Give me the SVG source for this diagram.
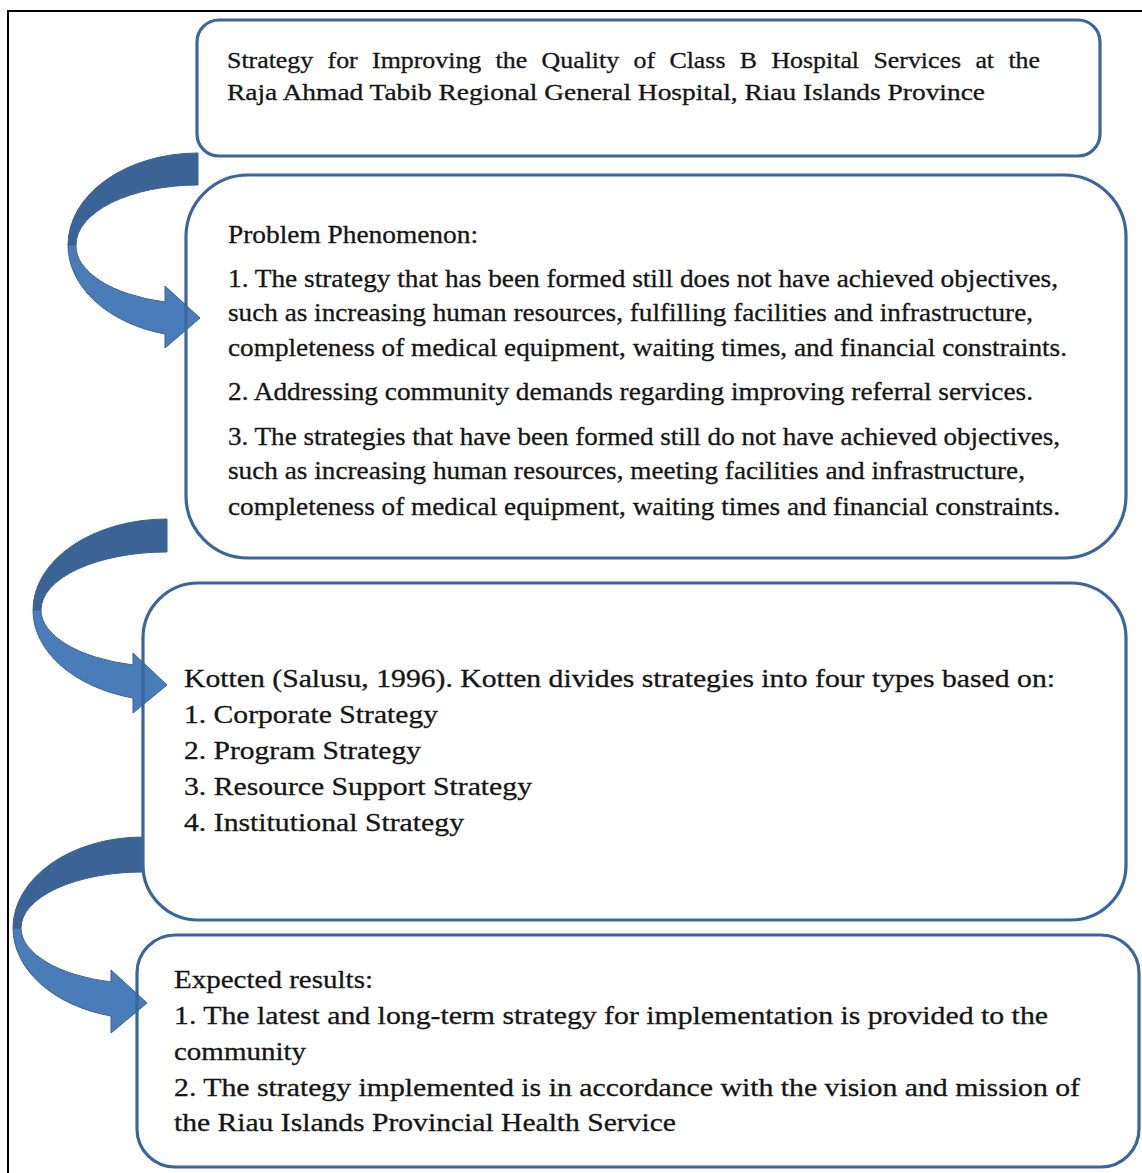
<svg xmlns="http://www.w3.org/2000/svg" width="1142" height="1173" viewBox="0 0 1142 1173">
  <style>
    .frame { fill: none; stroke: #000; stroke-width: 2; }
    .box { fill: none; stroke: #3a669c; stroke-width: 3.2; }
    .back { fill: #3b6396; stroke: #3a6192; stroke-width: 1; }
    .front { fill: #4a7cba; stroke: #3a6192; stroke-width: 1; }
    text { font-family: "Liberation Serif", "Times New Roman", Times, serif; fill: #151515; stroke: #151515; stroke-width: 0.3; }
    .t1 { font-size: 23px; }
    .t { font-size: 25px; }
    .justified { word-spacing: 7px; }
  </style>

  <rect x="0" y="0" width="1142" height="1173" fill="#fff"/>
  <!-- page frame: only top and left edges fall inside the canvas -->
  <path class="frame" d="M8,1173 L8,11 L1142,11"/>

  <!-- curved block arrows between the stages -->
  <g id="connectors">
    <g id="arrow-1">
      <path class="back" d="M198,153 A130,92 0 0 0 68,245 L76,245 A122,60 0 0 1 198,185 Z"/>
      <path class="front" d="M68,245 A130,92 0 0 0 165,334 L165,348 L200,318 L165,286 L165,302 A122,58 0 0 1 76,245 Z"/>
    </g>
    <g id="arrow-2">
      <path class="back" d="M167,519 A134,91 0 0 0 33,610 L41,610 A126,58 0 0 1 167,552 Z"/>
      <path class="front" d="M33,610 A134,91 0 0 0 133,698 L133,713 L167,685 L133,653 L133,665 A126,57 0 0 1 41,610 Z"/>
    </g>
    <g id="arrow-3">
      <path class="back" d="M143,837 A130,91 0 0 0 13,928 L21,928 A122,56 0 0 1 143,872 Z"/>
      <path class="front" d="M13,928 A130,91 0 0 0 111,1016 L111,1033 L147,1003 L111,970 L111,982 A122,56 0 0 1 21,928 Z"/>
    </g>
  </g>

  <g id="node-title">
    <rect class="box" x="197" y="20" width="903" height="136" rx="22"/>
    <text class="t1 justified" x="227" y="68" textLength="813" lengthAdjust="spacingAndGlyphs">Strategy for Improving the Quality of Class B Hospital Services at the</text>
    <text class="t1" x="227" y="100" textLength="758" lengthAdjust="spacingAndGlyphs">Raja Ahmad Tabib Regional General Hospital, Riau Islands Province</text>
  </g>

  <g id="node-problem">
    <rect class="box" x="186" y="175" width="940" height="383" rx="62"/>
    <text class="t" x="228" y="243" textLength="250" lengthAdjust="spacingAndGlyphs">Problem Phenomenon:</text>
    <text class="t" x="228" y="287" textLength="830" lengthAdjust="spacingAndGlyphs">1. The strategy that has been formed still does not have achieved objectives,</text>
    <text class="t" x="228" y="321" textLength="805" lengthAdjust="spacingAndGlyphs">such as increasing human resources, fulfilling facilities and infrastructure,</text>
    <text class="t" x="228" y="356" textLength="839" lengthAdjust="spacingAndGlyphs">completeness of medical equipment, waiting times, and financial constraints.</text>
    <text class="t" x="228" y="400" textLength="805" lengthAdjust="spacingAndGlyphs">2. Addressing community demands regarding improving referral services.</text>
    <text class="t" x="228" y="445" textLength="832" lengthAdjust="spacingAndGlyphs">3. The strategies that have been formed still do not have achieved objectives,</text>
    <text class="t" x="228" y="479" textLength="797" lengthAdjust="spacingAndGlyphs">such as increasing human resources, meeting facilities and infrastructure,</text>
    <text class="t" x="228" y="515" textLength="832" lengthAdjust="spacingAndGlyphs">completeness of medical equipment, waiting times and financial constraints.</text>
  </g>

  <g id="node-theory">
    <rect class="box" x="143" y="583" width="983" height="337" rx="55"/>
    <text class="t" x="184" y="687" textLength="871" lengthAdjust="spacingAndGlyphs">Kotten (Salusu, 1996). Kotten divides strategies into four types based on:</text>
    <text class="t" x="184" y="723" textLength="254" lengthAdjust="spacingAndGlyphs">1. Corporate Strategy</text>
    <text class="t" x="184" y="759" textLength="237" lengthAdjust="spacingAndGlyphs">2. Program Strategy</text>
    <text class="t" x="184" y="795" textLength="348" lengthAdjust="spacingAndGlyphs">3. Resource Support Strategy</text>
    <text class="t" x="184" y="831" textLength="280" lengthAdjust="spacingAndGlyphs">4. Institutional Strategy</text>
  </g>

  <g id="node-results">
    <rect class="box" x="137" y="935" width="1002" height="232" rx="38"/>
    <text class="t" x="174" y="988" textLength="199" lengthAdjust="spacingAndGlyphs">Expected results:</text>
    <text class="t" x="174" y="1024" textLength="874" lengthAdjust="spacingAndGlyphs">1. The latest and long-term strategy for implementation is provided to the</text>
    <text class="t" x="174" y="1060" textLength="132" lengthAdjust="spacingAndGlyphs">community</text>
    <text class="t" x="174" y="1096" textLength="906" lengthAdjust="spacingAndGlyphs">2. The strategy implemented is in accordance with the vision and mission of</text>
    <text class="t" x="174" y="1131" textLength="502" lengthAdjust="spacingAndGlyphs">the Riau Islands Provincial Health Service</text>
  </g>
</svg>
